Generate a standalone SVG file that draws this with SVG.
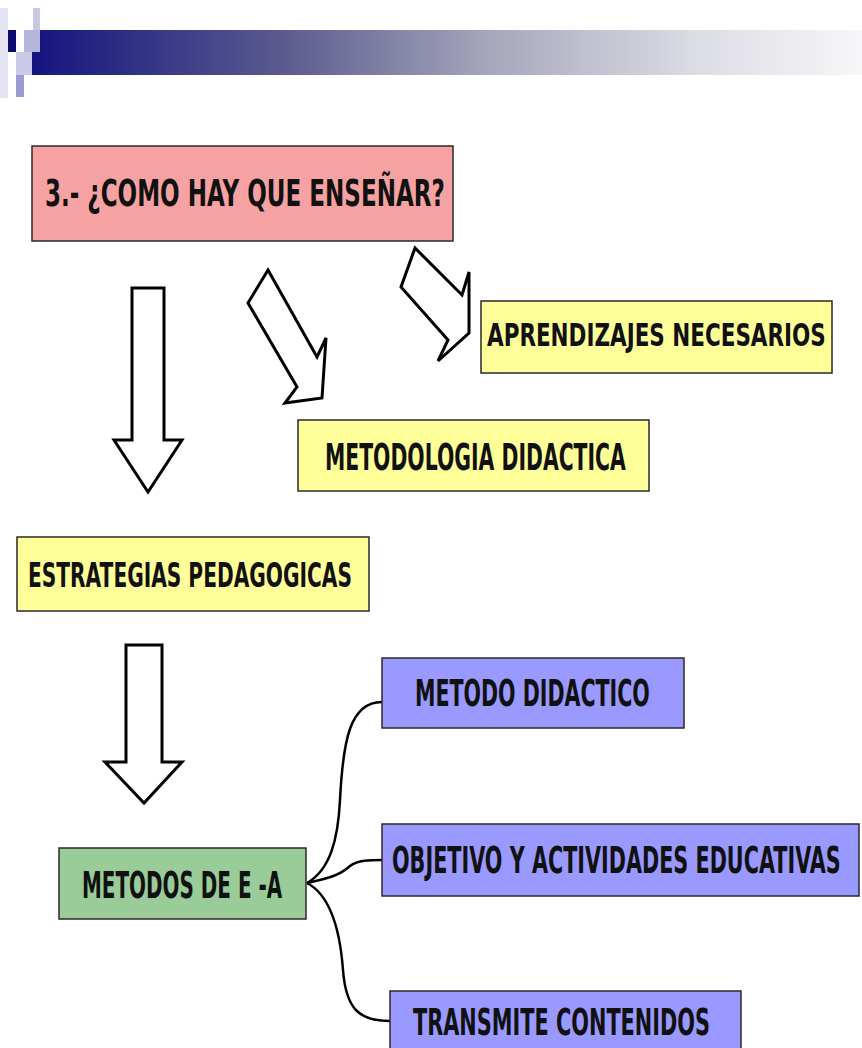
<svg xmlns="http://www.w3.org/2000/svg" width="862" height="1048" viewBox="0 0 862 1048">
<defs>
<linearGradient id="band" x1="0" y1="0" x2="1" y2="0">
<stop offset="0" stop-color="#141480"/>
<stop offset="0.3" stop-color="#5a5a8e"/>
<stop offset="0.55" stop-color="#a6a6bc"/>
<stop offset="0.8" stop-color="#dcdce4"/>
<stop offset="1" stop-color="#f7f7f9"/>
</linearGradient>
</defs>
<style>
.box{stroke:#2a2a2a;stroke-width:1.5}
.pink{fill:#f7a2a2}
.yel{fill:#ffff99}
.grn{fill:#99cc99}
.pur{fill:#9999ff}
.lbl{font-family:"DejaVu Sans","Liberation Sans",sans-serif;font-weight:bold;fill:#111}
.arw{fill:#fff;stroke:#000;stroke-width:3;stroke-linejoin:miter}
.con{fill:none;stroke:#000;stroke-width:2.5}
</style>
<rect width="862" height="1048" fill="#fff"/>
<g id="header">
<rect x="0" y="8" width="8" height="90" fill="#e4e4f2"/>
<rect x="32" y="30" width="830" height="45" fill="url(#band)"/>
<rect x="33" y="8" width="7" height="44" fill="#c8c8e6"/>
<rect x="24" y="30" width="16" height="22" fill="#b6b6dc"/>
<rect x="8" y="30" width="8" height="22" fill="#0c0c70"/>
<rect x="16" y="52" width="16" height="23" fill="#cacae8"/>
<rect x="16" y="75" width="8" height="22" fill="#9c9cd0"/>
</g>
<g id="connectors">
<path class="con" d="M307,883 C330,870 338,840 340,800 C343,740 350,702 382,702"/>
<path class="con" d="M307,883 C330,878 340,875 350,866 C358,860 370,860 382,860"/>
<path class="con" d="M307,883 C330,895 340,930 343,970 C346,1010 360,1021 390,1021"/>
<polygon class="arw" points="132,288 164,288 164,440 182,440 148,492 114,440 132,440"/>
<polygon class="arw" points="268,270 248,303 297,387 285,403 322,398 326,338 317,357"/>
<polygon class="arw" points="415,248 401,287 448,340 438,361 469,333 469,272 462,295"/>
<polygon class="arw" points="126,645 162,645 162,762 182,762 144,803 105,762 126,762"/>
</g>
<g id="n-title">
<rect class="box pink" x="32" y="146" width="421" height="95" stroke-width="2"/>
<text class="lbl" transform="translate(45,206) scale(0.55,1)" font-size="37" textLength="727" lengthAdjust="spacingAndGlyphs">3.- ¿COMO HAY QUE ENSEÑAR?</text>
</g>
<g id="n-aprendizajes">
<rect class="box yel" x="481" y="301" width="351" height="72"/>
<text class="lbl" transform="translate(487,346) scale(0.55,1)" font-size="32" textLength="616" lengthAdjust="spacingAndGlyphs">APRENDIZAJES NECESARIOS</text>
</g>
<g id="n-metodologia">
<rect class="box yel" x="298" y="420" width="351" height="71"/>
<text class="lbl" transform="translate(325,470) scale(0.55,1)" font-size="37" textLength="547" lengthAdjust="spacingAndGlyphs">METODOLOGIA DIDACTICA</text>
</g>
<g id="n-estrategias">
<rect class="box yel" x="17" y="537" width="352" height="74"/>
<text class="lbl" transform="translate(28,587) scale(0.55,1)" font-size="34" textLength="589" lengthAdjust="spacingAndGlyphs">ESTRATEGIAS PEDAGOGICAS</text>
</g>
<g id="n-metodos">
<rect class="box grn" x="59" y="848" width="247" height="71"/>
<text class="lbl" transform="translate(82,898) scale(0.55,1)" font-size="37" textLength="364" lengthAdjust="spacingAndGlyphs">METODOS DE E -A</text>
</g>
<g id="n-metodo-didactico">
<rect class="box pur" x="382" y="658" width="302" height="70"/>
<text class="lbl" transform="translate(415,706) scale(0.55,1)" font-size="37" textLength="427" lengthAdjust="spacingAndGlyphs">METODO DIDACTICO</text>
</g>
<g id="n-objetivo">
<rect class="box pur" x="382" y="824" width="477" height="72"/>
<text class="lbl" transform="translate(392,873) scale(0.55,1)" font-size="37" textLength="816" lengthAdjust="spacingAndGlyphs">OBJETIVO Y ACTIVIDADES EDUCATIVAS</text>
</g>
<g id="n-transmite">
<rect class="box pur" x="390" y="991" width="351" height="70"/>
<text class="lbl" transform="translate(413,1035) scale(0.55,1)" font-size="37" textLength="540" lengthAdjust="spacingAndGlyphs">TRANSMITE CONTENIDOS</text>
</g>
</svg>
